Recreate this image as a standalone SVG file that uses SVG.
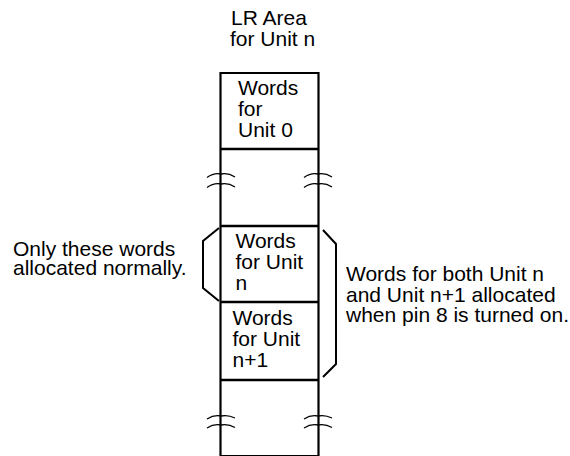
<svg xmlns="http://www.w3.org/2000/svg" width="570" height="456" viewBox="0 0 570 456">
<style>
text{font-family:"Liberation Sans",Arial,sans-serif;font-size:21px;fill:#000}
.box{fill:none;stroke:#000;stroke-width:2.2}
.div{stroke:#000;stroke-width:2.6}
.brk{fill:none;stroke:#000;stroke-width:1.3}
.brkt{fill:none;stroke:#000;stroke-width:2}
</style>
<rect width="570" height="456" fill="#fff"/>
<g id="title">
<text x="231" y="25">LR Area</text>
<text x="230" y="45.5">for Unit n</text>
</g>
<g id="column">
<path class="box" d="M220.5,456.5 V73 H318.5 V456.5"/>
<line class="box" x1="220.5" y1="456" x2="318.5" y2="456"/>
<line class="div" x1="220.5" y1="149" x2="318.5" y2="149"/>
<line class="div" x1="220.5" y1="226" x2="318.5" y2="226"/>
<line class="div" x1="220.5" y1="302" x2="318.5" y2="302"/>
<line class="div" x1="220.5" y1="380" x2="318.5" y2="380"/>
</g>
<g id="unit0">
<text x="238" y="95">Words</text>
<text x="238" y="116">for</text>
<text x="238" y="137">Unit 0</text>
</g>
<g id="unitn">
<text x="235.5" y="248">Words</text>
<text x="235.5" y="269">for Unit</text>
<text x="235.5" y="290">n</text>
</g>
<g id="unitn1">
<text x="232.5" y="325">Words</text>
<text x="232.5" y="346">for Unit</text>
<text x="232.5" y="367">n+1</text>
</g>
<g id="breaks">
<path class="brk" d="M207,177.5 Q214,172.5 221,174 Q228,172.5 235,177"/>
<path class="brk" d="M207,187.5 Q214,182.5 221,184 Q228,182.5 235,187"/>
<path class="brk" d="M304,177.5 Q311,172.5 318,174 Q325,172.5 332,177"/>
<path class="brk" d="M304,187.5 Q311,182.5 318,184 Q325,182.5 332,187"/>
<path class="brk" d="M207,419 Q214,414.5 221,416 Q228,414.5 235,418"/>
<path class="brk" d="M207,428 Q214,423.5 221,425 Q228,423.5 235,427.5"/>
<path class="brk" d="M304,419 Q311,414.5 318,416 Q325,414.5 332,418"/>
<path class="brk" d="M304,428 Q311,423.5 318,425 Q325,423.5 332,427.5"/>
</g>
<g id="connectors">
<path class="brkt" d="M219,228 L203,241 L203,288 L219,301"/>
<path class="brkt" d="M323,230 L336,244 L336,364 L323,377"/>
</g>
<g id="label-left">
<text x="13" y="255.5">Only these words</text>
<text x="13" y="275">allocated normally.</text>
</g>
<g id="label-right">
<text x="346" y="281">Words for both Unit n</text>
<text x="346" y="301.5">and Unit n+1 allocated</text>
<text x="346" y="321.5">when pin 8 is turned on.</text>
</g>
</svg>
